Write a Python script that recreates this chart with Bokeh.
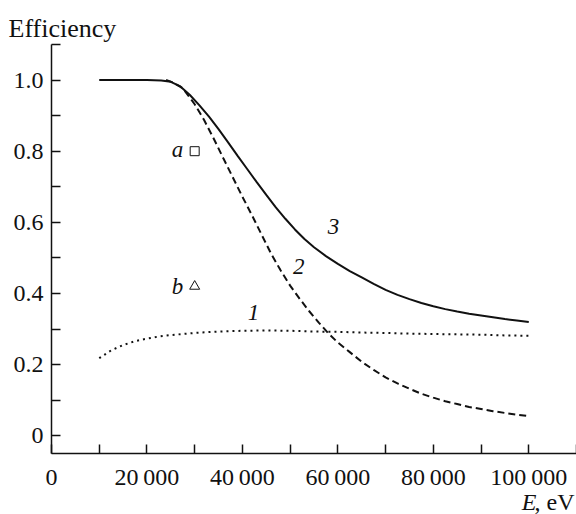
from bokeh.plotting import figure
from bokeh.models import Range1d, FixedTicker, CustomJSTickFormatter, Label
from bokeh.embed import file_html
from bokeh.resources import INLINE

# Curve 3 (solid)
e3 = [10000, 20000, 23000, 25000, 27000, 29000, 31000, 33000, 35000, 37000, 39000,
      41000, 43000, 45000, 47000, 49000, 51000, 53000, 55000, 57500, 60000, 62500,
      65000, 67500, 70000, 72500, 75000, 77500, 80000, 82500, 85000, 87500, 90000,
      92500, 95000, 97500, 100000]
v3 = [1.0, 1.0, 0.999, 0.995, 0.982, 0.958, 0.929, 0.897, 0.862, 0.825, 0.787,
      0.75, 0.713, 0.677, 0.642, 0.61, 0.58, 0.553, 0.53, 0.505, 0.483, 0.463,
      0.445, 0.427, 0.41, 0.396, 0.384, 0.373, 0.364, 0.356, 0.349, 0.343, 0.338,
      0.333, 0.328, 0.324, 0.32]

# Curve 2 (dashed)
e2 = [24000, 25500, 27500, 30000, 32000, 34000, 36000, 38000, 40000, 42000, 44000,
      46000, 48000, 50000, 52000, 54000, 56000, 58000, 60000, 62500, 65000, 67500,
      70000, 72500, 75000, 77500, 80000, 82500, 85000, 87500, 90000, 92500, 95000,
      97500, 100000]
v2 = [1.0, 0.993, 0.977, 0.932, 0.887, 0.835, 0.78, 0.726, 0.672, 0.62, 0.566,
      0.512, 0.465, 0.422, 0.385, 0.35, 0.318, 0.288, 0.262, 0.235, 0.208, 0.185,
      0.164, 0.147, 0.132, 0.118, 0.107, 0.097, 0.089, 0.081, 0.075, 0.069, 0.064,
      0.059, 0.055]

# Curve 1 (dotted)
e1 = [10000, 12500, 15000, 17500, 20000, 22500, 25000, 27500, 30000, 35000, 40000,
      45000, 50000, 55000, 60000, 65000, 70000, 75000, 80000, 85000, 90000, 95000, 100000]
v1 = [0.218, 0.24, 0.255, 0.266, 0.273, 0.279, 0.283, 0.286, 0.289, 0.293, 0.295,
      0.296, 0.295, 0.293, 0.292, 0.29, 0.289, 0.287, 0.286, 0.285, 0.284, 0.282, 0.281]

# Experimental points
pa_e, pa_v = [30000], [0.80]
pb_e, pb_v = [30000], [0.42]

x_ticks = list(range(0, 110001, 10000))
y_ticks = [0.0, 0.1, 0.2, 0.3, 0.4, 0.5, 0.6, 0.7, 0.8, 0.9, 1.0, 1.1]

SERIF = "Liberation Serif"
INK = "#111111"

p = figure(width=576, height=514, output_backend="svg", toolbar_location=None,
           x_range=Range1d(-10686, 110000), y_range=Range1d(-0.2215, 1.2237),
           min_border_left=0, min_border_right=0, min_border_top=0,
           min_border_bottom=0)
p.outline_line_color = None
p.xgrid.visible = False
p.ygrid.visible = False
p.background_fill_color = "white"
p.border_fill_color = "white"

xa = p.xaxis[0]
ya = p.yaxis[0]
xa.fixed_location = -0.05
ya.fixed_location = 0
xa.bounds = (0, 110000)
ya.bounds = (-0.05, 1.1)

for ax in (xa, ya):
    ax.axis_line_color = INK
    ax.axis_line_width = 1.5
    ax.major_tick_line_color = INK
    ax.major_tick_line_width = 1.5
    ax.major_tick_in = 9
    ax.major_tick_out = 0
    ax.minor_tick_line_color = None
    ax.major_label_text_font = SERIF
    ax.major_label_text_font_size = "24px"
    ax.major_label_text_color = INK

xa.ticker = FixedTicker(ticks=x_ticks)
ya.ticker = FixedTicker(ticks=y_ticks)
xa.major_label_standoff = 10
ya.major_label_standoff = 8
xa.formatter = CustomJSTickFormatter(code="""
    const t = Math.round(tick);
    if (t % 20000 !== 0 || t > 100000) return '';
    if (t === 0) return '0';
    const s = String(t);
    return s.slice(0, -3) + '\u2009' + s.slice(-3);
""")
ya.formatter = CustomJSTickFormatter(code="""
    if (Math.abs(tick * 5 - Math.round(tick * 5)) > 1e-6 || tick > 1.05) return '';
    if (Math.abs(tick) < 1e-9) return '0';
    return tick.toFixed(1);
""")

p.line(e1, v1, line_color=INK, line_width=2, line_dash="2 4")
p.line(e2, v2, line_color=INK, line_width=2, line_dash="7 4")
p.line(e3, v3, line_color=INK, line_width=2)

p.scatter(pa_e, pa_v, marker="square", size=9, fill_color=None, line_color=INK, line_width=1)
p.scatter(pb_e, pb_v, marker="triangle", size=10, fill_color=None, line_color=INK, line_width=1)

def lab(x, y, text, italic=True, size="23px", align="center", baseline="middle", xoff=0):
    p.add_layout(Label(x=x, y=y, text=text, text_font=SERIF,
                       text_font_style="italic" if italic else "normal",
                       text_font_size=size, text_color=INK, text_align=align,
                       text_baseline=baseline, x_offset=xoff))

lab(42300, 0.346, "1")
lab(51800, 0.475, "2")
lab(59100, 0.588, "3")
lab(26400, 0.805, "a")
lab(26400, 0.42, "b")

lab(-9010, 1.145, "Efficiency", italic=False, size="26px", align="left", baseline="alphabetic")
lab(110000, -0.185, ", eV", italic=False, size="24px", align="right", baseline="alphabetic", xoff=-2)
lab(110000, -0.185, "E", italic=True, size="24px", align="right", baseline="alphabetic", xoff=-40)

open("out.html", "w").write(file_html(p, INLINE))
